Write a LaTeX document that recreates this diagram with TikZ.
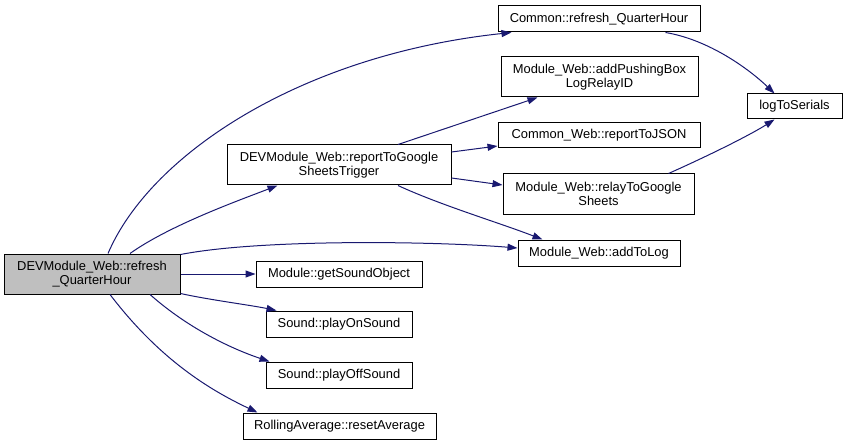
\documentclass[tikz,border=0pt]{standalone}
\usepackage{fontspec}
\setmainfont{Liberation Sans}
\usetikzlibrary{arrows.meta}
\definecolor{edgeblue}{HTML}{191970}
\definecolor{maingray}{HTML}{BFBFBF}
\begin{document}
\begin{tikzpicture}[x=1pt,y=1pt,
  fn/.style={draw=black, line width=1pt, fill=white, inner sep=0pt, align=center,
    font=\fontsize{12.9}{13.6}\selectfont},
  call/.style={draw=edgeblue, line width=1pt, -{Triangle[length=10pt,width=7pt]}, fill=none}]
\useasboundingbox (0,0) rectangle (848,445);
\node[fn, fill=maingray, minimum width=176pt, minimum height=40pt] (main) at (92,171) {DEVModule\_Web::refresh\\\_QuarterHour};
\node[fn, minimum width=224pt, minimum height=40pt] (rtg) at (339,280) {DEVModule\_Web::reportToGoogle\\SheetsTrigger};
\node[fn, minimum width=202pt, minimum height=26pt] (crq) at (599,426) {Common::refresh\_QuarterHour};
\node[fn, minimum width=197pt, minimum height=40pt] (apb) at (599.5,368) {Module\_Web::addPushingBox\\LogRelayID};
\node[fn, minimum width=202pt, minimum height=25pt] (rtj) at (599,309.5) {Common\_Web::reportToJSON};
\node[fn, minimum width=191pt, minimum height=40pt] (rgs) at (598.5,251) {Module\_Web::relayToGoogle\\Sheets};
\node[fn, minimum width=162pt, minimum height=26pt] (atl) at (599,192) {Module\_Web::addToLog};
\node[fn, minimum width=95pt, minimum height=25pt] (lts) at (794.5,338.5) {logToSerials};
\node[fn, minimum width=166pt, minimum height=26pt] (gso) at (339,171) {Module::getSoundObject};
\node[fn, minimum width=146pt, minimum height=26pt] (pon) at (339,121) {Sound::playOnSound};
\node[fn, minimum width=146pt, minimum height=26pt] (pof) at (339,70) {Sound::playOffSound};
\node[fn, minimum width=193pt, minimum height=26pt] (rav) at (339.5,19) {RollingAverage::resetAverage};

% edges from main
\draw[call] ([xshift=16pt]main.north) .. controls (150,290) and (300,390) .. ([xshift=14pt]crq.south west);
\draw[call] ([xshift=38pt]main.north) .. controls (170,220) and (240,245) .. ([xshift=51pt]rtg.south west);
\draw[call] ([yshift=-1pt]main.north east) .. controls (260,206) and (430,204) .. ([yshift=5pt]atl.west);
\draw[call] (main.east) -- (gso.west);
\draw[call] ([yshift=1pt]main.south east) .. controls (210,145) and (250,140) .. ([xshift=11pt]pon.north west);
\draw[call] ([xshift=58pt]main.south) .. controls (190,115) and (235,95) .. ([xshift=4pt]pof.north west);
\draw[call] ([xshift=18pt]main.south) .. controls (160,85) and (210,55) .. ([xshift=15pt]rav.north west);
% edges from rtg
\draw[call] ([xshift=59pt]rtg.north) -- ([xshift=37pt]apb.south west);
\draw[call] ([yshift=13pt]rtg.east) -- ([yshift=-10.5pt]rtj.west);
\draw[call] ([yshift=-13pt]rtg.east) -- ([yshift=9pt]rgs.west);
\draw[call] ([xshift=59pt]rtg.south) .. controls (440,240) and (500,222) .. ([xshift=25pt]atl.north west);
% edges to logToSerials
\draw[call] ([xshift=-35pt]crq.south east) .. controls (710,405) and (750,375) .. ([xshift=28pt]lts.north west);
\draw[call] ([xshift=-26pt]rgs.north east) .. controls (710,290) and (750,310) .. ([xshift=28pt]lts.south west);
\end{tikzpicture}
\end{document}
